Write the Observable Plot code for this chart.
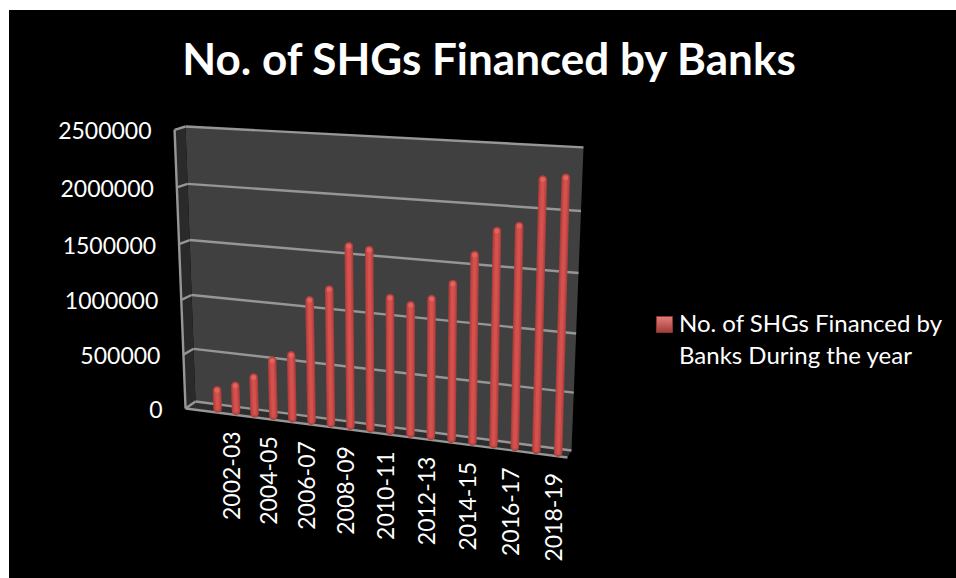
<!DOCTYPE html>
<html>
<head>
<meta charset="utf-8">
<style>
  html, body { margin: 0; padding: 0; background: #fff; overflow: hidden; }
  #chart { position: absolute; left: 9px; top: 10px; }
</style>
<script src="https://cdn.jsdelivr.net/npm/d3@7"></script>
<script src="https://cdn.jsdelivr.net/npm/@observablehq/plot@0.6"></script>
</head>
<body>
<div id="chart"></div>
<script>
const chartTitle = "No. of SHGs Financed by Banks";
const seriesName = "No. of SHGs Financed by\nBanks During the year";
const years = [
  "2001-02", "2002-03", "2003-04", "2004-05", "2005-06", "2006-07",
  "2007-08", "2008-09", "2009-10", "2010-11", "2011-12", "2012-13",
  "2013-14", "2014-15", "2015-16", "2016-17", "2017-18", "2018-19"
];
const financed = [
  172000, 234000, 331000, 506000, 574000, 1083000,
  1195000, 1583000, 1565000, 1170000, 1125000, 1195000,
  1339000, 1595000, 1807000, 1860000, 2245000, 2270000
];
const valueTicks = [0, 500000, 1000000, 1500000, 2000000, 2500000];

const posMax = 18.5;
const valMax = 2500000;

// The box seen obliquely: corners of its back and front faces in chart units
// [position along the category axis, value], ordered BL, BR, TR, TL.
const backFace = [[0, 0], [18.5, -445000], [19.09, 2310000], [-0.49, 2500000]];
const frontFace = [[-0.49, -64000], [18.3, -509000], [18.6, 2280000], [-1.03, 2470000]];

// Unit square to quadrilateral perspective map.
function quadMap([[x0, y0], [x1, y1], [x2, y2], [x3, y3]]) {
  const dx1 = x1 - x2, dx2 = x3 - x2, sx = x0 - x1 + x2 - x3;
  const dy1 = y1 - y2, dy2 = y3 - y2, sy = y0 - y1 + y2 - y3;
  const det = dx1 * dy2 - dx2 * dy1;
  const g = (sx * dy2 - dx2 * sy) / det, h = (dx1 * sy - sx * dy1) / det;
  const a = x1 - x0 + g * x1, b = x3 - x0 + h * x3;
  const d = y1 - y0 + g * y1, e = y3 - y0 + h * y3;
  return (u, v) => {
    const w = g * u + h * v + 1;
    return [(a * u + b * v + x0) / w, (d * u + e * v + y0) / w];
  };
}
const backMap = quadMap(backFace), frontMap = quadMap(frontFace);

// View of a scene point: category position, value, depth (0 back wall, 1 front edge).
function view(pos, val, depth) {
  const [bx, by] = backMap(pos / posMax, val / valMax);
  const [fx, fy] = frontMap(pos / posMax, val / valMax);
  return [bx + (fx - bx) * depth, by + (fy - by) * depth];
}
const polygon = (...pts) => pts.map(([p, v, d]) => view(p, v, d));
const edge = (a, b) => ({a: view(...a), b: view(...b)});

const barPos = i => 1.45 + i * 0.9735;
const barDepth = 0.5;
const bars = financed.map((v, i) => ({
  base: view(barPos(i), 0, barDepth),
  top: view(barPos(i), v, barDepth)
}));
const capTop = bars.map(b => b.top);

const gridBack = valueTicks.map(v => edge([0, v, 0], [posMax, v, 0]));
const gridSide = valueTicks.map(v => edge([0, v, 1], [0, v, 0]));
const frame = [
  edge([0, 0, 1], [0, valMax, 1]),
  edge([0, 0, 1], [posMax, 0, 1])
];

const wall = polygon([0, 0, 0], [posMax, 0, 0], [posMax, valMax, 0], [0, valMax, 0]);
const side = polygon([0, 0, 1], [0, 0, 0], [0, valMax, 0], [0, valMax, 1]);
const floor = polygon([0, 0, 1], [posMax, 0, 1], [posMax, 0, 0], [0, 0, 0]);

const tickLabels = valueTicks.map(v => ({v, at: view(0, v, 1)}));
const yearLabels = years
  .map((name, i) => ({name, at: view(barPos(i), 0, barDepth)}))
  .filter((d, i) => i % 2 === 1);

const font = "Lato";
const linkOf = (data, options) => Plot.link(data, {
  x1: d => d.a[0], y1: d => d.a[1], x2: d => d.b[0], y2: d => d.b[1], ...options
});
const barLayer = (stroke, strokeWidth) => Plot.link(bars, {
  x1: d => d.base[0], y1: d => d.base[1], x2: d => d.top[0], y2: d => d.top[1],
  stroke, strokeWidth, strokeLinecap: "round"
});
const fillPoly = (pts, fill) => Plot.line(pts, {x: d => d[0], y: d => d[1], fill, stroke: "none"});

const svg = Plot.plot({
  width: 947,
  height: 568,
  margin: 0,
  x: {domain: [0, posMax], range: [186, 562], axis: null},
  y: {domain: [0, valMax], range: [391, 116], axis: null},
  style: {background: "#000", color: "#fff", fontFamily: font},
  marks: [
    fillPoly(wall, "#404040"),
    fillPoly(side, "#2a2a2a"),
    fillPoly(floor, "#2d2d2d"),
    linkOf(gridBack, {stroke: "#969696", strokeWidth: 2.4}),
    linkOf(gridSide, {stroke: "#969696", strokeWidth: 2.4}),
    linkOf(frame, {stroke: "#969696", strokeWidth: 2.4}),
    barLayer("#aa3e3c", 8.5),
    barLayer("#c24644", 6.5),
    barLayer("#d5514e", 3.5),
    Plot.dot(capTop, {x: d => d[0], y: d => d[1], r: 2.5, fill: "#e2625e"}),
    Plot.text(tickLabels, {
      x: d => d.at[0], y: d => d.at[1], text: d => String(d.v),
      textAnchor: "end", dx: -23, dy: 2, fontSize: 23, fill: "#fff"
    }),
    Plot.text(yearLabels, {
      x: d => d.at[0], y: d => d.at[1], text: "name",
      rotate: -90, textAnchor: "end", dx: -3.5, dy: 20.5, fontSize: 23, fill: "#fff"
    }),
    Plot.text([chartTitle], {
      frameAnchor: "top", dx: 6, dy: 33, fontSize: 44, fontWeight: "bold", fill: "#fff"
    }),
    Plot.dot([seriesName], {
      frameAnchor: "top-left", dx: 655, dy: 314, r: 9, symbol: "square",
      fill: "url(#legend-swatch)", stroke: "#8f3634", strokeWidth: 1
    }),
    Plot.text([seriesName], {
      frameAnchor: "top-left", dx: 669.5, dy: 299, fontSize: 24, lineHeight: 1.34, fill: "#fff"
    })
  ]
});

// Bevelled look of the legend swatch.
const defs = d3.select(svg).insert("defs", ":first-child");
const grad = defs.append("linearGradient")
  .attr("id", "legend-swatch").attr("x1", 0).attr("y1", 0).attr("x2", 0).attr("y2", 1);
grad.append("stop").attr("offset", "0%").attr("stop-color", "#e67f7c");
grad.append("stop").attr("offset", "100%").attr("stop-color", "#a03c3a");

document.getElementById("chart").append(svg);
</script>
</body>
</html>
